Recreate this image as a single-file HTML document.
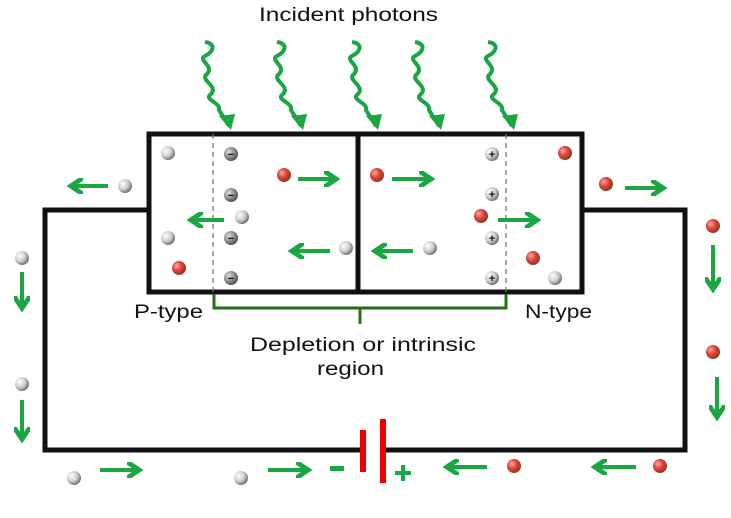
<!DOCTYPE html>
<html><head><style>
body{margin:0;background:#fff;width:731px;height:513px;overflow:hidden}
svg text{font-family:"Liberation Sans",sans-serif;fill:#111}
</style></head><body>
<svg width="731" height="513" viewBox="0 0 731 513">
<defs>
<radialGradient id="gw" cx="35%" cy="35%" r="65%"><stop offset="0" stop-color="#fff"/><stop offset="0.6" stop-color="#ccc"/><stop offset="1" stop-color="#777"/></radialGradient>
<radialGradient id="gr" cx="35%" cy="35%" r="65%"><stop offset="0" stop-color="#ffb0a0"/><stop offset="0.5" stop-color="#e84040"/><stop offset="1" stop-color="#884020"/></radialGradient>
<radialGradient id="gd" cx="35%" cy="35%" r="65%"><stop offset="0" stop-color="#ddd"/><stop offset="1" stop-color="#555"/></radialGradient>
<marker id="ah" markerWidth="4" markerHeight="4" refX="2.2" refY="2" orient="auto" markerUnits="strokeWidth"><path d="M0,0 L3,2 L0,4" fill="none" stroke="#1aa640" stroke-width="1.2"/></marker>
<g id="sq"><path d="M0,0 c12,2 8,10 0,14 c-8,4 10,10 2,18 c-8,6 12,12 4,20 c-8,6 10,8 8,16 l10,16" fill="none" stroke="#1aa640" stroke-width="4"/><path d="M14,74 l12,14 l4,-16 z" fill="#1aa640"/></g>
</defs>
<g stroke="#111" stroke-width="5" fill="none">
<rect x="149" y="134" width="433" height="158"/>
<line x1="358" y1="134" x2="358" y2="292"/>
<polyline points="149,210 45,210 45,450 362,450"/>
<polyline points="582,210 685,210 685,450 382,450"/>
</g>
<g stroke="#777" stroke-width="1.3" stroke-dasharray="5,4"><line x1="213" y1="134" x2="213" y2="292"/><line x1="506" y1="134" x2="506" y2="292"/></g>
<path d="M214,294 v14 h292 v-14 M360,308 v16" fill="none" stroke="#2a6a1a" stroke-width="3"/>
<rect x="360" y="430" width="6" height="42" fill="#e00"/><rect x="380" y="419" width="6" height="64" fill="#e00"/>
<rect x="330" y="466" width="14" height="5" fill="#1aa640"/>
<path d="M395,473 h16 M403,465 v16" stroke="#1aa640" stroke-width="4"/>
<use href="#sq" x="205" y="42"/><use href="#sq" x="277" y="42"/><use href="#sq" x="352" y="42"/><use href="#sq" x="415" y="42"/><use href="#sq" x="488" y="42"/>
<g stroke="#1aa640" stroke-width="4" fill="none" marker-end="url(#ah)">
<line x1="108" y1="186" x2="74" y2="186"/>
<line x1="224" y1="220" x2="194" y2="220"/>
<line x1="298" y1="179" x2="333" y2="179"/>
<line x1="330" y1="251" x2="295" y2="251"/>
<line x1="413" y1="251" x2="378" y2="251"/>
<line x1="392" y1="179" x2="428" y2="179"/>
<line x1="498" y1="220" x2="534" y2="220"/>
<line x1="625" y1="188" x2="660" y2="188"/>
<line x1="22" y1="272" x2="22" y2="305"/>
<line x1="22" y1="400" x2="22" y2="436"/>
<line x1="713" y1="245" x2="713" y2="286"/>
<line x1="717" y1="377" x2="717" y2="414"/>
<line x1="100" y1="470" x2="136" y2="470"/>
<line x1="268" y1="470" x2="305" y2="470"/>
<line x1="487" y1="467" x2="450" y2="467"/>
<line x1="636" y1="467" x2="598" y2="467"/>
</g>
<g>
<circle cx="168" cy="153" r="7" fill="url(#gw)"/><circle cx="168" cy="238" r="7" fill="url(#gw)"/><circle cx="179" cy="268" r="7" fill="url(#gr)"/>
<circle cx="125" cy="186" r="7" fill="url(#gw)"/><circle cx="242" cy="217" r="7" fill="url(#gw)"/>
<circle cx="284" cy="175" r="7" fill="url(#gr)"/><circle cx="346" cy="248" r="7" fill="url(#gw)"/>
<circle cx="377" cy="175" r="7" fill="url(#gr)"/><circle cx="430" cy="248" r="7" fill="url(#gw)"/>
<circle cx="481" cy="216" r="7" fill="url(#gr)"/><circle cx="565" cy="153" r="7" fill="url(#gr)"/>
<circle cx="533" cy="258" r="7" fill="url(#gr)"/><circle cx="555" cy="278" r="7" fill="url(#gw)"/>
<circle cx="606" cy="184" r="7" fill="url(#gr)"/>
<circle cx="22" cy="258" r="7" fill="url(#gw)"/><circle cx="22" cy="384" r="7" fill="url(#gw)"/>
<circle cx="713" cy="226" r="7" fill="url(#gr)"/><circle cx="713" cy="352" r="7" fill="url(#gr)"/>
<circle cx="74" cy="478" r="7" fill="url(#gw)"/><circle cx="241" cy="478" r="7" fill="url(#gw)"/>
<circle cx="514" cy="466" r="7" fill="url(#gr)"/><circle cx="660" cy="466" r="7" fill="url(#gr)"/>
</g>
<g font-family="Liberation Sans" font-size="11" font-weight="bold" text-anchor="middle">
<circle cx="231" cy="154" r="7" fill="url(#gd)"/><text x="231" y="158">−</text>
<circle cx="231" cy="195" r="7" fill="url(#gd)"/><text x="231" y="199">−</text>
<circle cx="231" cy="238" r="7" fill="url(#gd)"/><text x="231" y="242">−</text>
<circle cx="231" cy="278" r="7" fill="url(#gd)"/><text x="231" y="282">−</text>
<circle cx="492" cy="154" r="7" fill="url(#gw)"/><text x="492" y="158">+</text>
<circle cx="492" cy="194" r="7" fill="url(#gw)"/><text x="492" y="198">+</text>
<circle cx="492" cy="238" r="7" fill="url(#gw)"/><text x="492" y="242">+</text>
<circle cx="492" cy="278" r="7" fill="url(#gw)"/><text x="492" y="282">+</text>
</g>
<g font-size="19" lengthAdjust="spacingAndGlyphs">
<text x="259" y="21" textLength="179" lengthAdjust="spacingAndGlyphs">Incident photons</text>
<text x="134" y="318" textLength="69" lengthAdjust="spacingAndGlyphs">P-type</text>
<text x="525" y="318" textLength="67" lengthAdjust="spacingAndGlyphs">N-type</text>
<text x="250" y="351" textLength="226" lengthAdjust="spacingAndGlyphs">Depletion or intrinsic</text>
<text x="317" y="375" textLength="67" lengthAdjust="spacingAndGlyphs">region</text>
</g>
</svg>
</body></html>
